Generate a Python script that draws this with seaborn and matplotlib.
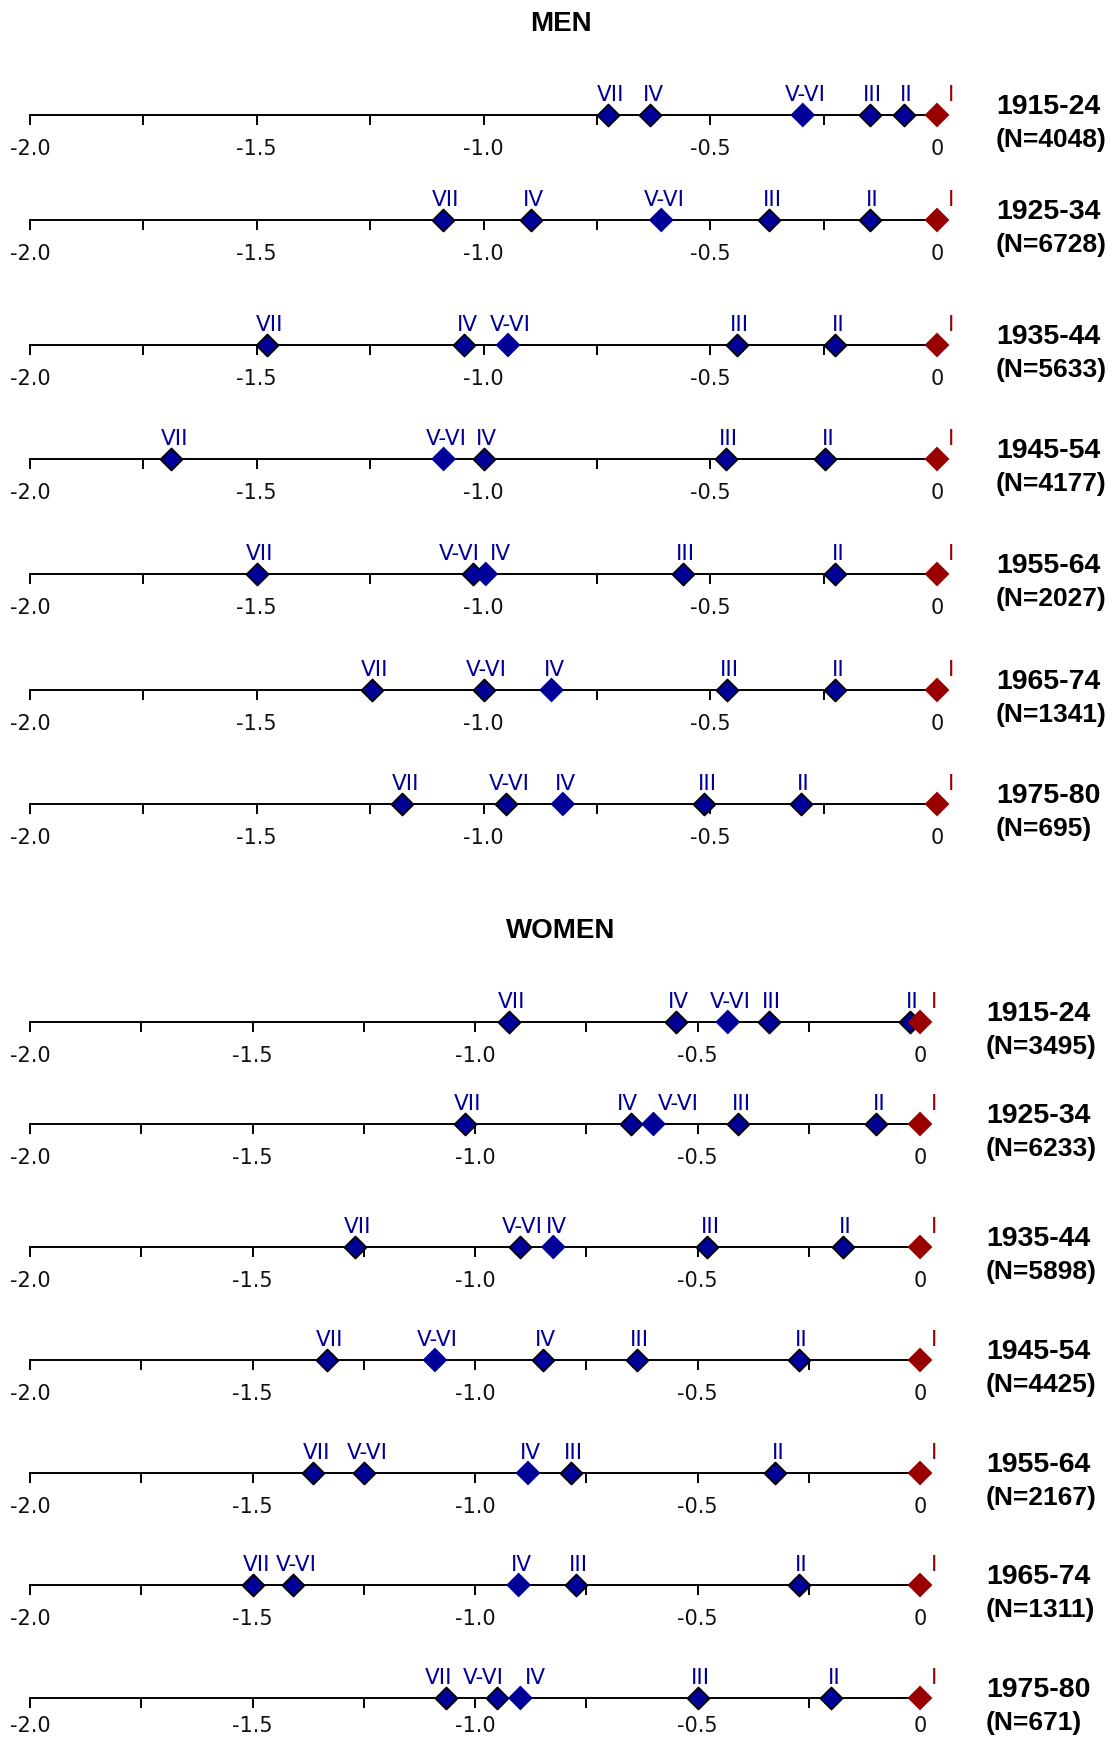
import numpy as np
import pandas as pd
import matplotlib
matplotlib.use("Agg")
import matplotlib.pyplot as plt
import seaborn as sns

# data (log-odds relative to class I)
periods = ["1915-24", "1925-34", "1935-44", "1945-54", "1955-64", "1965-74", "1975-80"]
classes = ["I", "II", "III", "IV", "V-VI", "VII"]

men_n = [4048, 6728, 5633, 4177, 2027, 1341, 695]
men_I = [0.0, 0.0, 0.0, 0.0, 0.0, 0.0, 0.0]
men_II = [-0.073, -0.148, -0.224, -0.247, -0.224, -0.224, -0.300]
men_III = [-0.148, -0.370, -0.442, -0.466, -0.560, -0.463, -0.513]
men_IV = [-0.632, -0.895, -1.042, -1.000, -0.995, -0.850, -0.825]
men_VVI = [-0.296, -0.608, -0.946, -1.088, -1.023, -1.000, -0.950]
men_VII = [-0.725, -1.089, -1.478, -1.688, -1.500, -1.246, -1.179]
men_plain = ["V-VI", "V-VI", "V-VI", "V-VI", "IV", "IV", "IV"]

women_n = [3495, 6233, 5898, 4425, 2167, 1311, 671]
women_I = [0.0, 0.0, 0.0, 0.0, 0.0, 0.0, 0.0]
women_II = [-0.023, -0.098, -0.174, -0.273, -0.325, -0.273, -0.199]
women_III = [-0.340, -0.408, -0.478, -0.636, -0.785, -0.774, -0.500]
women_IV = [-0.549, -0.649, -0.824, -0.848, -0.881, -0.902, -0.898]
women_VVI = [-0.432, -0.599, -0.900, -1.090, -1.249, -1.408, -0.950]
women_VII = [-0.924, -1.023, -1.269, -1.333, -1.363, -1.498, -1.066]
women_plain = ["V-VI", "V-VI", "IV", "V-VI", "IV", "IV", "IV"]

tick_major = [-2.0, -1.5, -1.0, -0.5, 0.0]
tick_labels = ["-2.0", "-1.5", "-1.0", "-0.5", "0"]
tick_minor = [-1.75, -1.25, -0.75, -0.25]

rows = []
for sex, cols, plain in [("MEN", [men_I, men_II, men_III, men_IV, men_VVI, men_VII], men_plain),
                         ("WOMEN", [women_I, women_II, women_III, women_IV, women_VVI, women_VII], women_plain)]:
    for i, p in enumerate(periods):
        for c, col in zip(classes, cols):
            rows.append({"sex": sex, "period": p, "cls": c, "value": col[i],
                         "edge": c != "I" and c != plain[i]})
df = pd.DataFrame(rows)

#layout (pixels of the 1112x1738 picture)
W, H = 1112, 1738
line_y = {"MEN": [115, 220, 345, 459, 574, 690, 804],
          "WOMEN": [1022, 1124, 1247, 1360, 1473, 1585, 1698]}
x_left = 30
x_zero = {"MEN": 937, "WOMEN": 920}
x_text = {"MEN": 996, "WOMEN": 986}
title_y = {"MEN": 24, "WOMEN": 931}
counts = {"MEN": men_n, "WOMEN": women_n}

blue = "#000099"
red = "#990000"
pal = {c: blue for c in classes}
pal["I"] = red

sns.set_theme(style="white")
plt.rcParams["font.family"] = ["DejaVu Sans"]
plt.rcParams["text.color"] = "black"

fig = plt.figure(figsize=(W / 100, H / 100), dpi=100)
renderer = fig.canvas.get_renderer()

for sex in ["MEN", "WOMEN"]:
    fig.text(561 / W, 1 - title_y[sex] / H, sex, ha="center", va="center",
             fontsize=20, fontweight="bold", family="Liberation Sans")
    for i, p in enumerate(periods):
        y = line_y[sex][i]
        ax = fig.add_axes([x_left / W, 1 - (y + 40) / H, (x_zero[sex] - x_left) / W, 80 / H])
        ax.patch.set_visible(False)
        sub = df[(df.sex == sex) & (df.period == p)]

        edged = sub[sub.edge]
        plain = sub[~sub.edge]
        sns.scatterplot(x=edged["value"], y=np.zeros(len(edged)), marker="D", s=125,
                        color=blue, edgecolor="black", linewidth=1.3, ax=ax,
                        zorder=3, clip_on=False, legend=False)
        sns.scatterplot(x=plain["value"], y=np.zeros(len(plain)), hue=plain["cls"].values,
                        palette=pal, marker="D", s=160, linewidth=0, ax=ax,
                        zorder=3, clip_on=False, legend=False)

        ax.set_xlim(-2, 0)
        ax.set_ylim(-1, 1)

        # class labels
        ref = sub[sub.cls == "I"].iloc[0]
        ax.annotate("I", (ref.value, 0), xytext=(8, 7), textcoords="offset points",
                    ha="left", va="bottom", color=red, fontsize=15.5)
        others = sub[sub.cls != "I"].sort_values("value")
        order = list(others.cls)
        txt = {}
        for _, r in others.iterrows():
            txt[r.cls] = ax.annotate(r.cls, (r.value, 0), xytext=(2, 7), textcoords="offset points",
                                     ha="center", va="bottom", color=blue, fontsize=15.5)

        def box(c):
            return txt[c].get_window_extent(renderer)

        # push apart labels that would run into each other
        for a, b in zip(order[:-1], order[1:]):
            if box(a).x1 > box(b).x0 - 1:
                txt[a].set_ha("right")
                txt[a].set_position((5, 7))
                txt[b].set_ha("left")
                txt[b].set_position((3, 7))
        for k in range(len(order) - 2, -1, -1):
            a, b = order[k], order[k + 1]
            if (txt[b].get_ha() == "right" and txt[a].get_ha() == "center"
                    and box(a).x1 > box(b).x0 - 6):
                txt[a].set_ha("right")
                txt[a].set_position((5, 7))

        for s in ["left", "right", "top"]:
            ax.spines[s].set_visible(False)
        ax.spines["bottom"].set_position(("data", 0))
        ax.spines["bottom"].set_linewidth(1.4)
        ax.spines["bottom"].set_color("black")
        ax.set_xticks(tick_major, tick_labels)
        ax.set_xticks(tick_minor, minor=True)
        ax.set_yticks([])
        # last row sits at the bottom edge: keep its numbers inside the picture
        pad = 6 if (sex == "WOMEN" and i == len(periods) - 1) else 10
        ax.tick_params(axis="x", which="both", direction="out", length=7, width=1.4,
                       color="black", bottom=True, pad=pad, labelsize=15, labelcolor="#111111")
        ax.set_xlabel("")
        ax.set_ylabel("")

        fig.text(x_text[sex] / W, 1 - (y - 8) / H, p, ha="left", va="center",
                 fontsize=20.5, fontweight="bold", family="Liberation Sans")
        fig.text(x_text[sex] / W, 1 - (y + 25) / H, "(N=%d)" % counts[sex][i], ha="left",
                 va="center", fontsize=19, fontweight="bold", family="Liberation Sans")

fig.savefig("out.png", dpi=100)
